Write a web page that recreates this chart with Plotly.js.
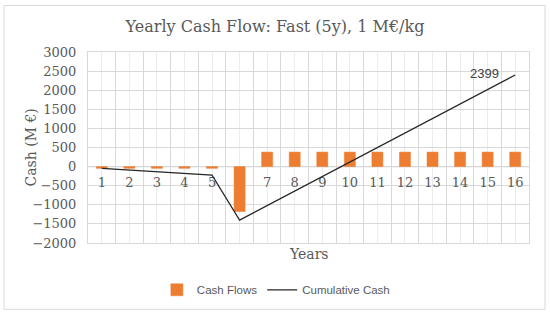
<!DOCTYPE html>
<html>
<head>
<meta charset="utf-8">
<script src="https://cdn.plot.ly/plotly-3.0.1.min.js"></script>
<style>html,body{margin:0;padding:0;background:#fff;}#chart{width:550px;height:316px;}</style>
</head>
<body>
<div id="chart"></div>
<script>
const years = [1,2,3,4,5,6,7,8,9,10,11,12,13,14,15,16];
const cashFlows = [-45,-45,-45,-45,-45,-1176,380,380,380,380,380,380,380,380,380,380];
const cumulativeCash = [-45,-90,-135,-180,-225,-1401,-1021,-641,-261,119,499,879,1259,1639,2019,2399];
const yTicks = [-2000,-1500,-1000,-500,0,500,1000,1500,2000,2500,3000];

const serif = "DejaVu Serif";
const sans = "Liberation Sans";
const gray = "#595959";

const traces = [
  {type:'bar', x: years, y: cashFlows, name:'Cash Flows', marker:{color:'#ed7d31', line:{color:'#ed7d31', width:0.5}}, width:0.4, xaxis:'x', yaxis:'y'},
  {type:'scatter', mode:'lines', x: years, y: cumulativeCash, name:'Cumulative Cash', line:{color:'#262626', width:1.2}, xaxis:'x', yaxis:'y'},
  {type:'scatter', mode:'markers', x: years, y: years.map(()=>0), marker:{opacity:0}, showlegend:false, hoverinfo:'skip', xaxis:'x2', yaxis:'y'}
];

const last = years.length - 1;
const layout = {
  width:550, height:316,
  margin:{l:88, r:21, t:52, b:71},
  paper_bgcolor:'#fff', plot_bgcolor:'#fff',
  title:{text:'Yearly Cash Flow: Fast (5y), 1 M€/kg', font:{family:serif, size:16, color:gray}, x:0.5, xref:'container', y:1-26/316, yref:'container', yanchor:'middle'},
  xaxis:{range:[0.5,16.5], tick0:0.5, dtick:1, showticklabels:false, ticks:'', showgrid:true, gridcolor:'#d9d9d9', gridwidth:1,
         minor:{tick0:1, dtick:1, showgrid:true, gridcolor:'#ececec', gridwidth:1},
         showline:true, mirror:true, linecolor:'#d9d9d9', zeroline:false, layer:'below traces'},
  xaxis2:{overlaying:'x', matches:'x', anchor:'free', position:0.4, side:'bottom', range:[0.5,16.5], tickmode:'array', tickvals:years, ticktext:years.map(String),
          ticks:'', showgrid:false, showline:false, zeroline:false, tickfont:{family:serif, size:13, color:gray}, ticklabelstandoff:6, layer:'below traces'},
  yaxis:{range:[-2000,3000], tickvals:yTicks, ticktext:yTicks.map(v=> v<0 ? '\u2212'+Math.abs(v) : String(v)), ticks:'', showgrid:true, gridcolor:'#d9d9d9', gridwidth:1,
         zeroline:false, showline:true, mirror:true, linecolor:'#d9d9d9', layer:'below traces',
         tickfont:{family:serif, size:13, color:gray}, ticklabelstandoff:8},
  showlegend:true,
  legend:{orientation:'h', x:0.426, xanchor:'center', y:-0.245, yanchor:'middle', font:{family:sans, size:11.5, color:gray}, traceorder:'normal'},
  annotations:[
    {text:'Cash (M €)', textangle:-90, xref:'paper', yref:'paper', x:(30-88)/441, y:0.5, xanchor:'center', yanchor:'middle', showarrow:false, font:{family:serif, size:14, color:gray}},
    {text:'Years', xref:'paper', yref:'paper', x:0.5, y:(245-256)/193, yanchor:'middle', showarrow:false, font:{family:serif, size:14, color:gray}},
    {text:String(cumulativeCash[last]), x:years[last], y:cumulativeCash[last], xref:'x', yref:'y', xanchor:'right', yanchor:'middle', xshift:-14, yshift:1, showarrow:false, font:{family:sans, size:13, color:'#404040'}}
  ],
  shapes:[
    {type:'rect', xref:'paper', yref:'paper', x0:(4-88)/441, x1:(545-88)/441, y0:(245-312)/193, y1:(245-5)/193, line:{color:'#d9d9d9', width:1}, layer:'below'},
    {type:'line', xref:'paper', yref:'y', x0:0, x1:1, y0:0, y1:0, line:{color:'#d0d0d0', width:1.2}, layer:'between'}
  ],
  bargap:0
};

Plotly.newPlot('chart', traces, layout, {displayModeBar:false, staticPlot:true});
</script>
</body>
</html>
